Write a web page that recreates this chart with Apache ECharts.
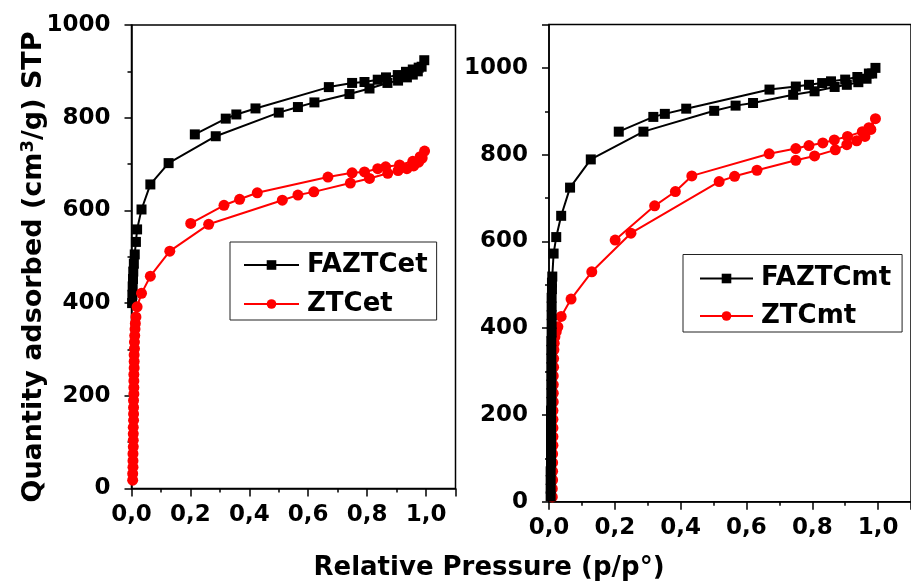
<!DOCTYPE html>
<html>
<head>
<meta charset="utf-8">
<script src="https://cdn.jsdelivr.net/npm/echarts@6/dist/echarts.min.js"></script>
<style>
  html, body { margin: 0; padding: 0; background: #fff; }
  #chart { width: 911px; height: 584px; }
</style>
</head>
<body>
<div id="chart"></div>
<script>
// N2 isotherms, relative pressure p/p° vs quantity adsorbed (cm3/g STP).
// Each series: adsorption branch (rising p) followed by desorption branch (falling p).

// Left panel: ethanol-derived samples
const faztcetP = [0.002, 0.003, 0.004, 0.005, 0.006, 0.008, 0.011, 0.015, 0.019, 0.034, 0.064, 0.126, 0.286, 0.500, 0.565, 0.621, 0.740, 0.808, 0.869, 0.905, 0.935, 0.955, 0.972, 0.985, 0.994,
                  0.975, 0.955, 0.932, 0.904, 0.864, 0.836, 0.791, 0.749, 0.670, 0.421, 0.356, 0.320, 0.215];
const faztcetQ = [400, 418, 436, 452, 468, 485, 505, 532, 559, 602, 656, 702, 760, 811, 823, 833, 851, 863, 875, 880, 887, 893, 900, 910, 924,
                  908, 904, 899, 892, 887, 882, 877, 875, 866, 820, 807, 798, 764];

const ztcetP = [0.004, 0.004, 0.005, 0.005, 0.005, 0.006, 0.006, 0.006, 0.006, 0.007, 0.007, 0.007, 0.007, 0.008, 0.008, 0.008, 0.008, 0.009, 0.009, 0.009, 0.010, 0.010, 0.011, 0.012, 0.013, 0.015, 0.019, 0.034, 0.064, 0.130, 0.262, 0.512, 0.565, 0.619, 0.743, 0.808, 0.870, 0.905, 0.935, 0.958, 0.975, 0.987, 0.995,
                0.980, 0.955, 0.910, 0.863, 0.836, 0.791, 0.749, 0.667, 0.427, 0.367, 0.314, 0.201];
const ztcetQ = [18, 32, 46, 60, 75, 90, 104, 118, 132, 147, 161, 175, 190, 204, 218, 232, 246, 260, 274, 288, 302, 316, 330, 344, 356, 370, 392, 421, 458, 512, 570, 622, 633, 640, 659, 669, 680, 686, 690, 696, 704, 713, 728,
                716, 706, 698, 694, 690, 683, 681, 672, 638, 624, 611, 572];

// Right panel: methanol-derived samples
const faztcmtP = [0.005, 0.005, 0.005, 0.005, 0.006, 0.006, 0.006, 0.006, 0.006, 0.006, 0.006, 0.007, 0.007, 0.007, 0.007, 0.007, 0.007, 0.007, 0.007, 0.008, 0.008, 0.008, 0.008, 0.008, 0.009, 0.009, 0.010, 0.014, 0.022, 0.037, 0.064, 0.127, 0.287, 0.502, 0.567, 0.620, 0.742, 0.807, 0.868, 0.905, 0.940, 0.965, 0.982, 0.992,
                  0.972, 0.937, 0.900, 0.857, 0.830, 0.790, 0.750, 0.670, 0.417, 0.352, 0.317, 0.212];
const faztcmtQ = [12, 30, 50, 70, 90, 110, 130, 150, 170, 190, 210, 230, 250, 270, 290, 310, 330, 350, 370, 390, 410, 430, 450, 470, 490, 505, 519, 572, 610, 659, 724, 789, 853, 901, 913, 919, 938, 946, 956, 961, 967, 975, 987, 1000,
                  987, 979, 973, 969, 965, 961, 957, 950, 906, 894, 887, 853];

const ztcmtP = [0.010, 0.010, 0.011, 0.011, 0.011, 0.011, 0.012, 0.012, 0.012, 0.012, 0.012, 0.013, 0.013, 0.013, 0.013, 0.014, 0.014, 0.015, 0.016, 0.018, 0.022, 0.027, 0.037, 0.067, 0.130, 0.249, 0.517, 0.564, 0.632, 0.750, 0.807, 0.870, 0.905, 0.935, 0.960, 0.978, 0.992,
                0.972, 0.952, 0.907, 0.867, 0.832, 0.790, 0.750, 0.669, 0.434, 0.384, 0.321, 0.201];
const ztcmtQ = [11, 30, 50, 70, 90, 110, 130, 150, 170, 190, 210, 230, 250, 270, 290, 310, 330, 350, 365, 380, 392, 403, 427, 467, 530, 619, 738, 750, 764, 787, 797, 811, 823, 832, 842, 858, 883,
                862, 853, 842, 834, 827, 821, 814, 802, 751, 715, 682, 603];

// Axis tick settings
const xTickStep = 0.2;
const yTickStep = 200;

const FONT = '"DejaVu Sans", sans-serif';

function pairs(px, qy) {
  return px.map((p, i) => [p, qy[i]]);
}

function commaLabel(v) {
  return v.toFixed(1).replace('.', ',');
}

function plainLabel(v) {
  return String(Math.round(v));
}

function xAxisCfg(gridIndex) {
  return {
    type: 'value', gridIndex: gridIndex, min: 0, max: 1.1, interval: xTickStep,
    axisLine: { show: true, onZero: false, lineStyle: { color: '#000', width: 1.5 } },
    axisTick: { show: true, inside: false, length: 8, lineStyle: { color: '#000', width: 1.5 } },
    minorTick: { show: true, splitNumber: 2, length: 4, lineStyle: { color: '#000', width: 1.5 } },
    splitLine: { show: false },
    axisLabel: {
      margin: 15, showMaxLabel: false, color: '#000',
      fontFamily: FONT, fontWeight: 'bold', fontSize: 23,
      formatter: commaLabel
    }
  };
}

function yAxisCfg(gridIndex, max) {
  return {
    type: 'value', gridIndex: gridIndex, min: 0, max: max, interval: yTickStep,
    axisLine: { show: true, onZero: false, lineStyle: { color: '#000', width: 1.5 } },
    axisTick: { show: true, inside: false, length: 7, lineStyle: { color: '#000', width: 1.5 } },
    minorTick: { show: true, splitNumber: 2, length: 4, lineStyle: { color: '#000', width: 1.5 } },
    splitLine: { show: false },
    axisLabel: {
      margin: 21, showMaxLabel: max === 1000, color: '#000',
      fontFamily: FONT, fontWeight: 'bold', fontSize: 23,
      formatter: plainLabel
    }
  };
}

function lineSeries(name, px, qy, axisIdx, color, symbol, size, z) {
  return {
    name: name, type: 'line', xAxisIndex: axisIdx, yAxisIndex: axisIdx,
    data: pairs(px, qy), symbol: symbol, symbolSize: size, showSymbol: true,
    lineStyle: { color: color, width: 2 },
    itemStyle: { color: color, borderWidth: 0 },
    z: z, silent: true
  };
}

function legendCfg(names, left, top, itemWidth, padding, itemGap) {
  return {
    data: names, orient: 'vertical', left: left, top: top,
    itemWidth: itemWidth, itemHeight: 12, itemGap: itemGap,
    padding: padding, borderColor: '#222', borderWidth: 1, backgroundColor: '#fff',
    selectedMode: false,
    textStyle: { color: '#000', fontFamily: FONT, fontWeight: 'bold', fontSize: 26, lineHeight: 26, padding: [0, 0, 0, 3] }
  };
}

const chart = echarts.init(document.getElementById('chart'), null, { renderer: 'canvas' });

chart.setOption({
  animation: false,
  backgroundColor: '#fff',
  grid: [
    { left: 131.5, top: 25, width: 324, height: 463.5, show: true, borderColor: '#000', borderWidth: 1.5, backgroundColor: 'transparent' },
    { left: 549, top: 24.5, width: 366.7, height: 477.2, show: true, borderColor: '#000', borderWidth: 1.5, backgroundColor: 'transparent' }
  ],
  xAxis: [xAxisCfg(0), xAxisCfg(1)],
  yAxis: [yAxisCfg(0, 1000), yAxisCfg(1, 1100)],
  legend: [
    legendCfg(['FAZTCet', 'ZTCet'], 230, 242, 55, [10, 9, 3, 13], 13),
    legendCfg(['FAZTCmt', 'ZTCmt'], 683, 254.5, 53, [11, 11, 3, 16], 11.5)
  ],
  series: [
    lineSeries('FAZTCet', faztcetP, faztcetQ, 0, '#000000', 'rect', 10, 2),
    lineSeries('ZTCet', ztcetP, ztcetQ, 0, '#ff0000', 'circle', 11, 3),
    lineSeries('ZTCmt', ztcmtP, ztcmtQ, 1, '#ff0000', 'circle', 11, 2),
    lineSeries('FAZTCmt', faztcmtP, faztcmtQ, 1, '#000000', 'rect', 10, 3)
  ],
  graphic: [
    {
      type: 'text', x: 489, y: 568, silent: true,
      style: {
        text: 'Relative Pressure (p/p°)', fill: '#000',
        fontFamily: FONT, fontWeight: 'bold', fontSize: 26,
        align: 'center', verticalAlign: 'middle'
      }
    },
    {
      type: 'text', x: 34, y: 267, rotation: Math.PI / 2, silent: true,
      style: {
        text: '{m|Quantity adsorbed (cm}{s|3}{m|/g) STP}', fill: '#000',
        align: 'center', verticalAlign: 'middle',
        rich: {
          m: { fontFamily: FONT, fontWeight: 'bold', fontSize: 27, lineHeight: 30, fill: '#000' },
          s: { fontFamily: FONT, fontWeight: 'bold', fontSize: 18, lineHeight: 12, verticalAlign: 'top', fill: '#000' }
        }
      }
    }
  ]
});
</script>
</body>
</html>
